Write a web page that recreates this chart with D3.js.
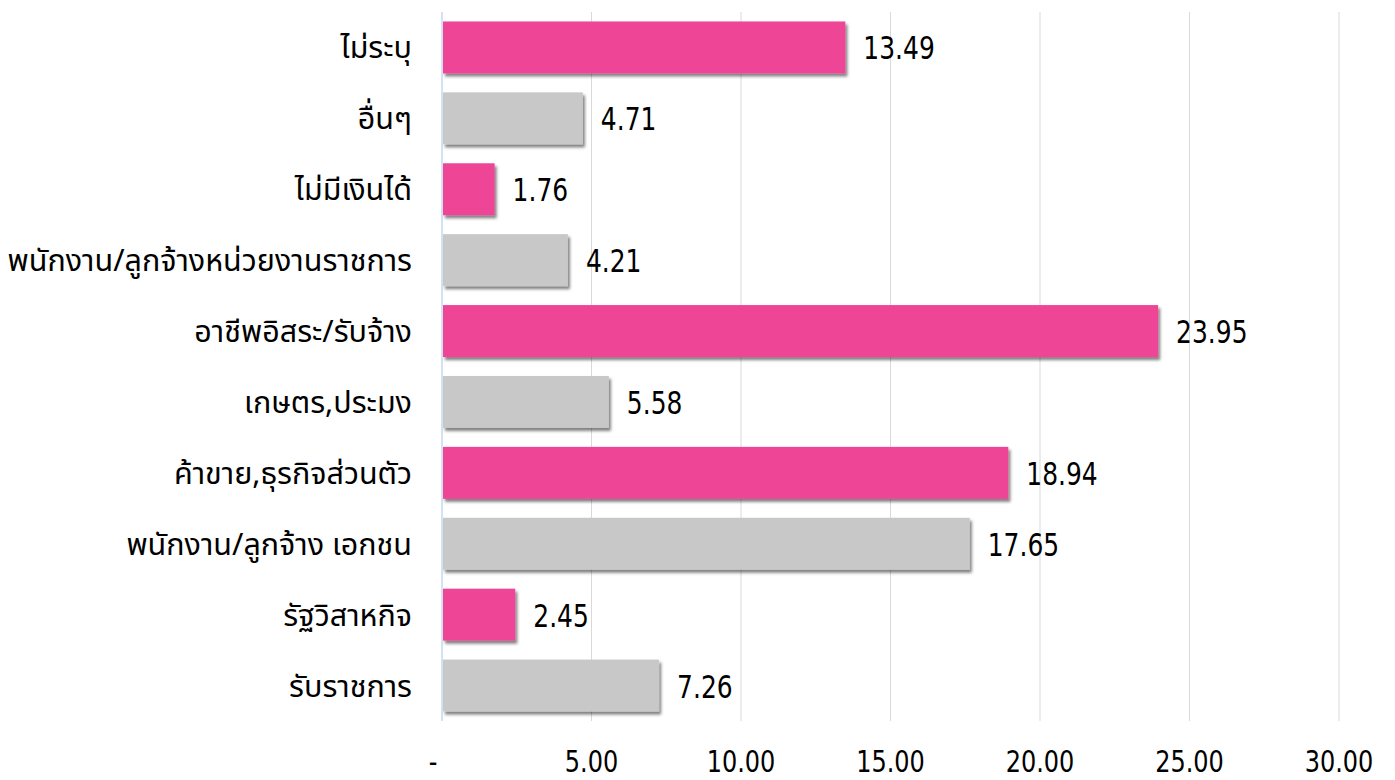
<!DOCTYPE html>
<html><head><meta charset="utf-8">
<script src="https://cdn.jsdelivr.net/npm/d3@7"></script>
<style>body{margin:0;background:#fff}</style>
</head><body>
<svg id="c" width="1395" height="780"></svg>
<script>
const categories = ["ไม่ระบุ","อื่นๆ ","ไม่มีเงินได้","พนักงาน/ลูกจ้างหน่วยงานราชการ","อาชีพอิสระ/รับจ้าง","เกษตร,ประมง","ค้าขาย,ธุรกิจส่วนตัว","พนักงาน/ลูกจ้าง เอกชน","รัฐวิสาหกิจ","รับราชการ"];
const values = [13.49,4.71,1.76,4.21,23.95,5.58,18.94,17.65,2.45,7.26];
const barColors = ["#EF4597","#C8C8C8","#EF4597","#C8C8C8","#EF4597","#C8C8C8","#EF4597","#C8C8C8","#EF4597","#C8C8C8"];
const ticks = [0,5,10,15,20,25,30];
const tickLabels = ["-","5.00","10.00","15.00","20.00","25.00","30.00"];

const svg = d3.select("#c");
const x = d3.scaleLinear().domain([0,30]).range([442,1339]);
const y = d3.scaleBand().domain(categories).range([12,721]).paddingInner(0.267).paddingOuter(0.1335);
const numFont = "'DejaVu Sans',sans-serif";

const defs = svg.append("defs");
const f = defs.append("filter").attr("id","sh").attr("x","-5%").attr("y","-20%").attr("width","115%").attr("height","160%");
f.append("feDropShadow").attr("dx",2).attr("dy",3).attr("stdDeviation",1.5).attr("flood-color","#000").attr("flood-opacity",0.5);

svg.append("g").selectAll("line").data(ticks.slice(1)).join("line")
  .attr("x1",d=>x(d)).attr("x2",d=>x(d)).attr("y1",12).attr("y2",721)
  .attr("stroke","#d9d9d9").attr("stroke-width",1);
svg.append("line").attr("x1",x(0)).attr("x2",x(0)).attr("y1",12).attr("y2",721)
  .attr("stroke","#c6d9f1").attr("stroke-width",1.5);

svg.append("g").selectAll("rect").data(values).join("rect")
  .attr("x",x(0)+1).attr("y",(d,i)=>y(categories[i]))
  .attr("width",d=>x(d)-x(0)-1).attr("height",y.bandwidth())
  .attr("fill",(d,i)=>barColors[i]).attr("filter","url(#sh)");

svg.append("g").selectAll("text").data(values).join("text")
  .attr("transform",(d,i)=>`translate(${x(d)+18},${y(categories[i])+y.bandwidth()/2+12}) scale(0.78,1)`)
  .attr("font-family",numFont).attr("font-size",32)
  .attr("fill","#000").text(d=>d.toFixed(2));

svg.append("g").selectAll("text").data(categories).join("text")
  .attr("x",412).attr("y",d=>y(d)+y.bandwidth()/2).attr("dy","0.36em")
  .attr("text-anchor","end").attr("font-family","'Noto Sans','Noto Sans Thai',sans-serif")
  .attr("font-size",30.5).attr("fill","#000").text(d=>d);

svg.append("g").selectAll("text").data(ticks).join("text")
  .attr("transform",d=>`translate(${d===0?x(d)-9:x(d)},772) scale(0.8,1)`)
  .attr("text-anchor","middle").attr("font-family",numFont).attr("font-size",30)
  .attr("fill","#000").text((d,i)=>tickLabels[i]);
</script>
</body></html>
